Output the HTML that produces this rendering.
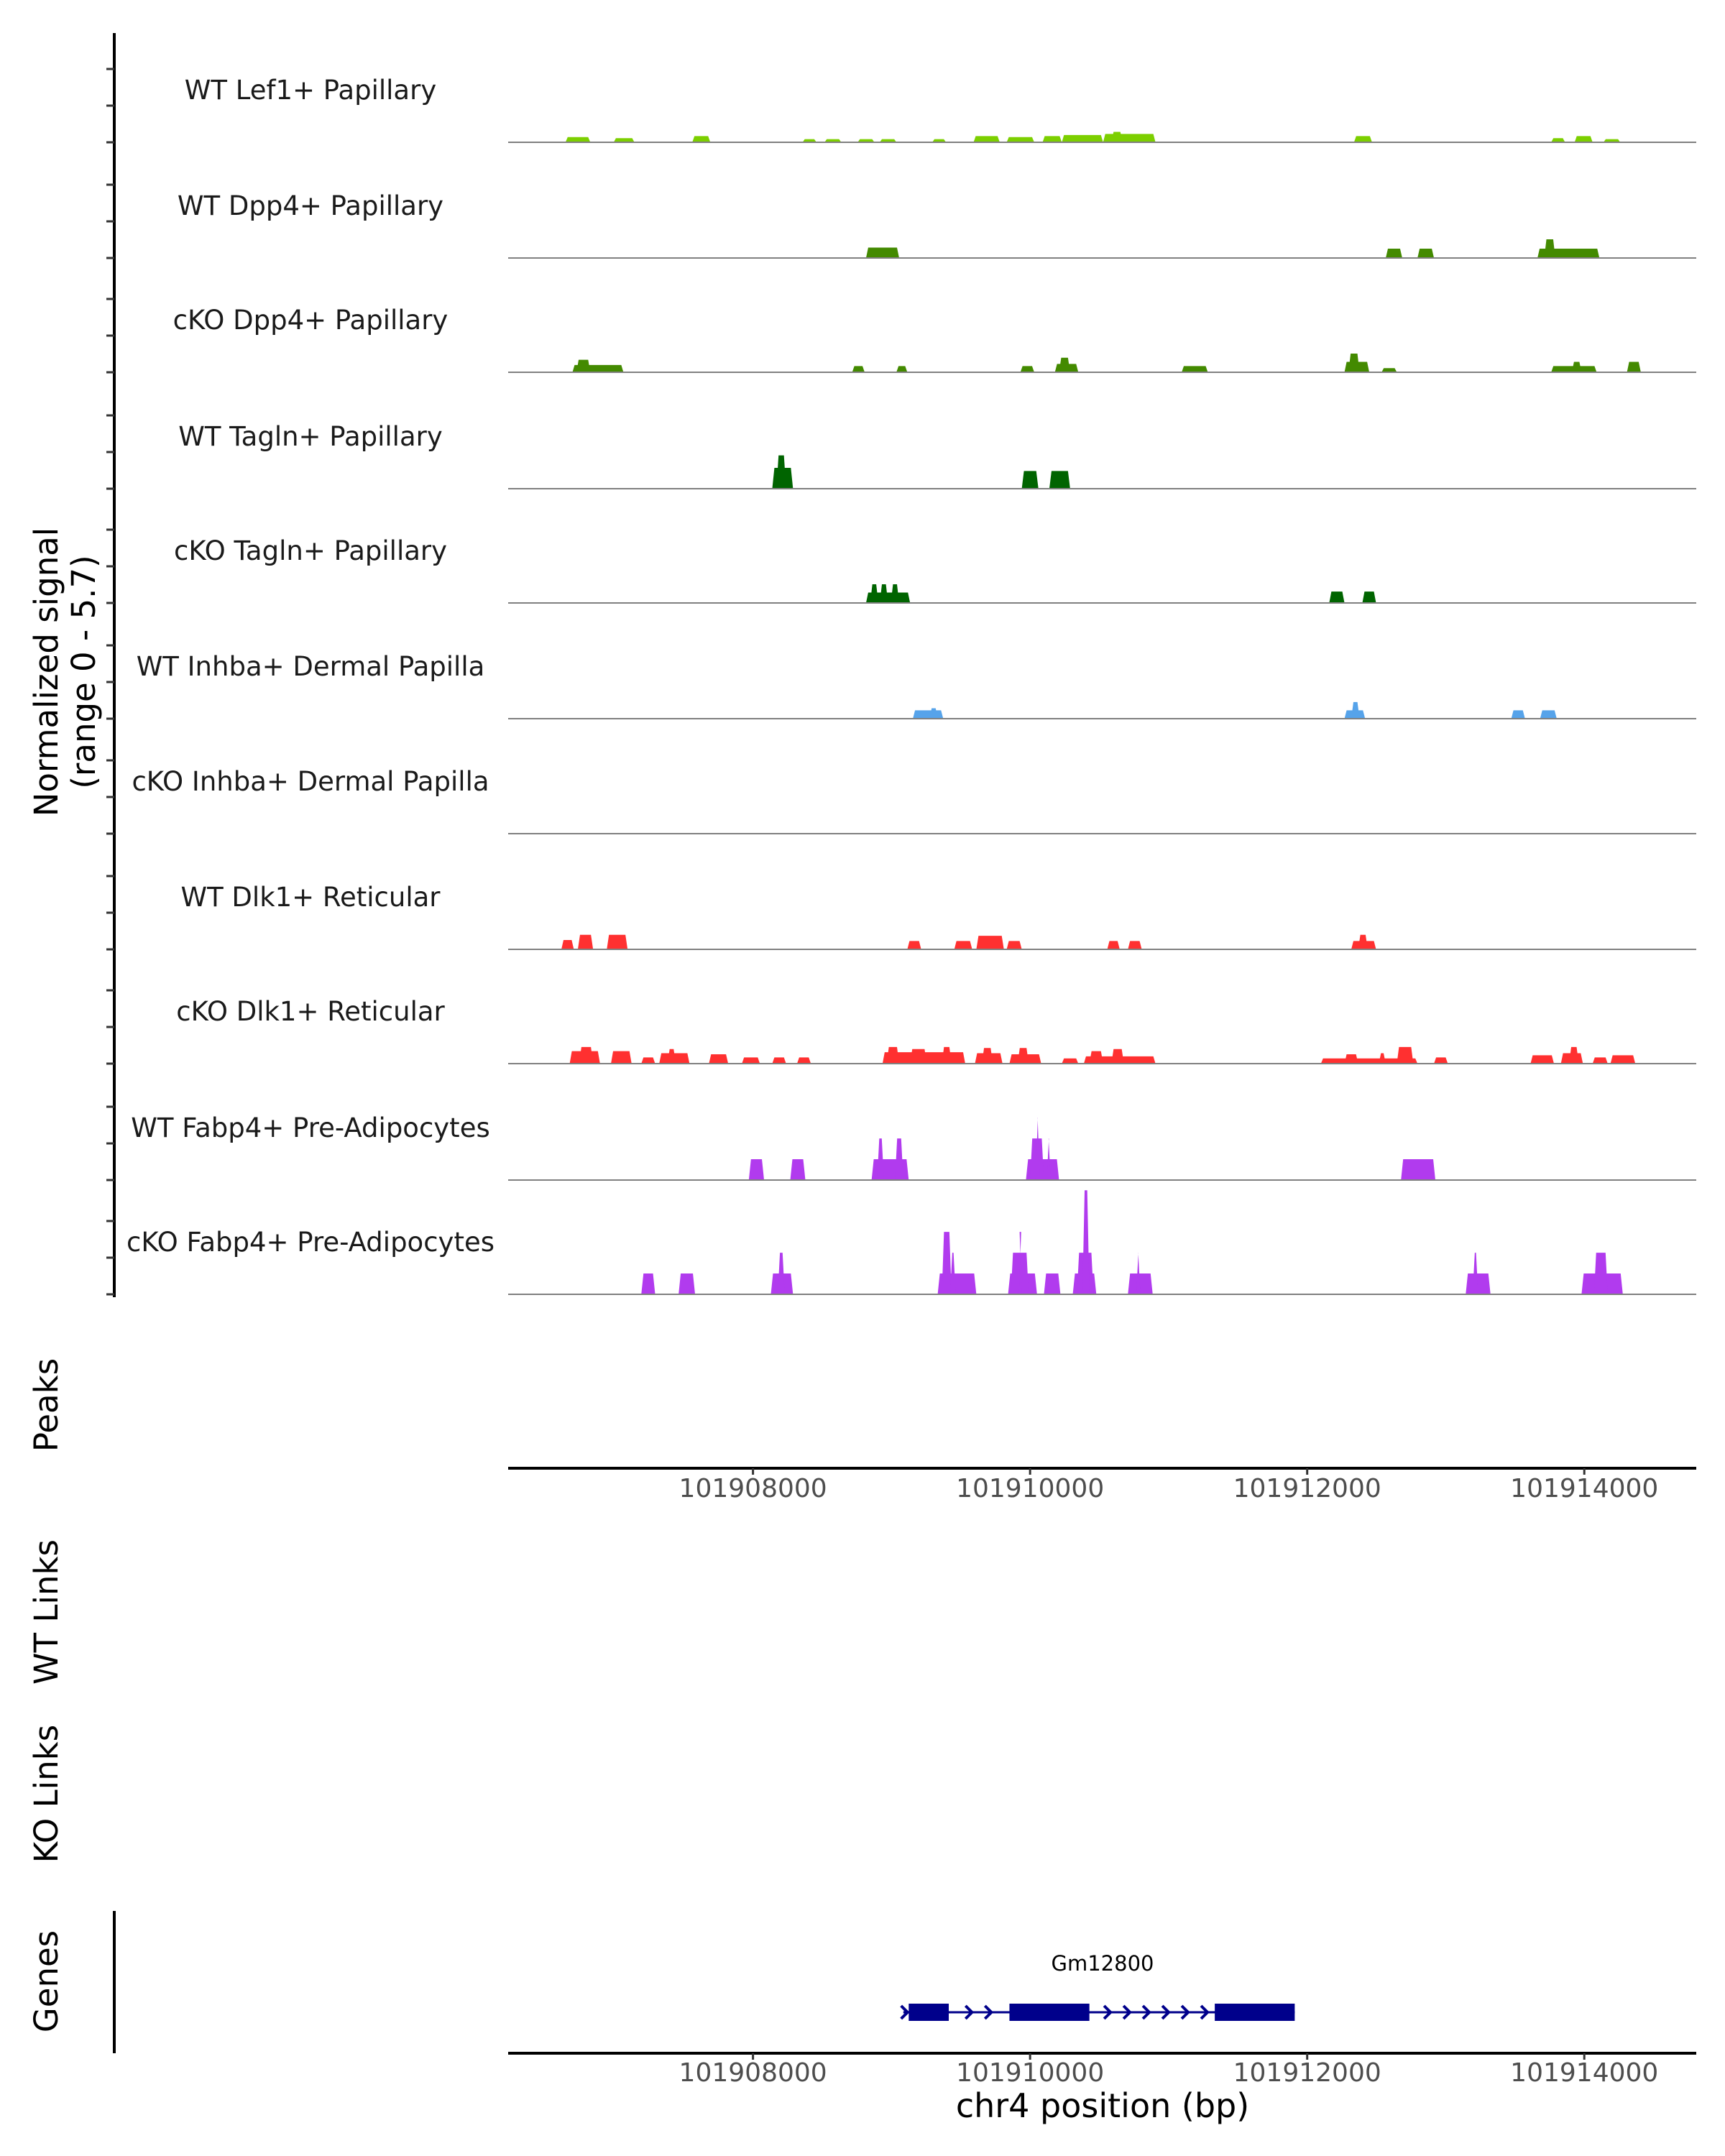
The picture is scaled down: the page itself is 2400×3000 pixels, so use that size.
<!DOCTYPE html>
<html><head><meta charset="utf-8"><title>Coverage plot</title>
<style>
html,body{margin:0;padding:0;background:#fff;}
svg{display:block;font-family:"DejaVu Sans","Liberation Sans",sans-serif;}
</style></head>
<body>
<svg id="chart" width="2400" height="3000" viewBox="0 0 2400 3000" xmlns="http://www.w3.org/2000/svg">
<rect width="2400" height="3000" fill="#fff"/>
<g id="tracks"></g>
<g id="yaxis"></g>
<text transform="translate(80,935) rotate(-90)" text-anchor="middle" font-size="45" fill="#000">Normalized signal</text>
<text transform="translate(132,935) rotate(-90)" text-anchor="middle" font-size="45" fill="#000">(range 0 - 5.7)</text>
<text transform="translate(80,1955) rotate(-90)" text-anchor="middle" font-size="45">Peaks</text>
<text transform="translate(80,2243) rotate(-90)" text-anchor="middle" font-size="45">WT Links</text>
<text transform="translate(80,2496) rotate(-90)" text-anchor="middle" font-size="45">KO Links</text>
<text transform="translate(80,2757) rotate(-90)" text-anchor="middle" font-size="45">Genes</text>
<line x1="159" y1="2659" x2="159" y2="2857" stroke="#000" stroke-width="4"/>
<g id="xaxes"></g>
<g id="gene"></g>
<text x="1534" y="2946" text-anchor="middle" font-size="46">chr4 position (bp)</text>
</svg>
<script>
const NS="http://www.w3.org/2000/svg";
const trackNames=["WT Lef1+ Papillary","WT Dpp4+ Papillary","cKO Dpp4+ Papillary","WT Tagln+ Papillary","cKO Tagln+ Papillary","WT Inhba+ Dermal Papilla","cKO Inhba+ Dermal Papilla","WT Dlk1+ Reticular","cKO Dlk1+ Reticular","WT Fabp4+ Pre-Adipocytes","cKO Fabp4+ Pre-Adipocytes"];
const trackColors=["#7ccf00","#438a00","#438a00","#006400","#006400","#56a3ea","#56a3ea","#ff3030","#ff3030","#b13bee","#b13bee"];
const xTicks=[101908000,101910000,101912000,101914000];
const xDomain=[101906233,101914808];
const yMax=5.7;
// segments: [startBp, endBp, value]
const lef1=[[101906647,101906826,0.25],[101906995,101907144,0.2],[101907562,101907692,0.3],[101908358,101908458,0.15],[101908517,101908637,0.15],[101908756,101908876,0.15],[101908915,101909035,0.15],[101909294,101909393,0.15],[101909592,101909781,0.3],[101909831,101910030,0.25],[101910090,101910229,0.3],[101910229,101910527,0.35],[101910527,101910905,0.4],[101910587,101910667,0.5],[101912338,101912468,0.3],[101913761,101913861,0.2],[101913930,101914060,0.3],[101914139,101914259,0.15]];
const wtDpp4=[[101908816,101909055,0.5],[101912567,101912686,0.45],[101912796,101912915,0.45],[101913662,101914109,0.45],[101913711,101913791,0.9]];
const koDpp4=[[101906697,101907065,0.35],[101906726,101906826,0.6],[101908716,101908806,0.3],[101909035,101909114,0.3],[101909930,101910030,0.3],[101910179,101910348,0.4],[101910209,101910289,0.7],[101911094,101911283,0.3],[101912269,101912448,0.5],[101912298,101912378,0.9],[101912537,101912647,0.2],[101913761,101914089,0.3],[101913910,101913980,0.5],[101914308,101914408,0.5]];
const wtTagln=[[101908139,101908289,1.0],[101908169,101908239,1.6],[101909940,101910060,0.85],[101910139,101910289,0.85]];
const koTagln=[[101908816,101909134,0.5],[101908846,101908905,0.9],[101908915,101908975,0.9],[101908995,101909055,0.9],[101912159,101912269,0.55],[101912398,101912497,0.55]];
const wtInhba=[[101909154,101909373,0.4],[101909274,101909334,0.5],[101912269,101912418,0.4],[101912318,101912378,0.8],[101913473,101913572,0.4],[101913681,101913801,0.4]];
const koInhba=[];
const wtDlk1=[[101906617,101906707,0.45],[101906736,101906846,0.7],[101906945,101907095,0.7],[101909114,101909214,0.4],[101909453,101909582,0.4],[101909612,101909811,0.65],[101909831,101909940,0.4],[101910557,101910647,0.4],[101910706,101910806,0.4],[101912318,101912497,0.4],[101912368,101912437,0.7]];
const koDlk1=[[101906677,101906896,0.6],[101906746,101906846,0.8],[101906975,101907124,0.6],[101907194,101907294,0.3],[101907323,101907542,0.5],[101907383,101907443,0.7],[101907682,101907821,0.45],[101907920,101908050,0.3],[101908139,101908239,0.3],[101908318,101908418,0.3],[101908935,101909532,0.55],[101908965,101909055,0.8],[101909134,101909254,0.7],[101909363,101909433,0.8],[101909602,101909801,0.5],[101909652,101909731,0.75],[101909851,101910080,0.45],[101909910,101909990,0.75],[101910229,101910348,0.25],[101910388,101910905,0.35],[101910428,101910527,0.6],[101910587,101910677,0.7],[101912099,101912796,0.25],[101912269,101912368,0.45],[101912517,101912567,0.5],[101912647,101912766,0.8],[101912915,101913015,0.3],[101913612,101913781,0.4],[101913831,101913990,0.5],[101913890,101913960,0.8],[101914060,101914169,0.3],[101914189,101914368,0.4]];
const wtFabp4=[[101907970,101908080,1],[101908269,101908378,1],[101908856,101909124,1],[101908896,101908945,2],[101909025,101909085,2],[101909970,101910209,1],[101910000,101910100,2],[101910040,101910070,3],[101910120,101910149,2],[101912677,101912925,1]];
const koFabp4=[[101907194,101907294,1],[101907463,101907582,1],[101908129,101908289,1],[101908179,101908229,2],[101909333,101909612,1],[101909363,101909433,3],[101909423,101909463,2],[101909841,101910050,1],[101909861,101909990,2],[101909920,101909940,3],[101910100,101910219,1],[101910308,101910478,1],[101910338,101910458,2],[101910378,101910428,5],[101910706,101910885,1],[101910766,101910796,2],[101913144,101913323,1],[101913194,101913234,2],[101913980,101914278,1],[101914070,101914169,2]];
const geneExons=[[101909124,101909413],[101909851,101910428],[101911333,101911910]];
const geneSpan=[101909085,101911910];
const geneArrows=[101909560,101909700,101910560,101910700,101910840,101910980,101911120,101911260];

const trackData=[lef1,wtDpp4,koDpp4,wtTagln,koTagln,wtInhba,koInhba,wtDlk1,koDlk1,wtFabp4,koFabp4];
const X0=707,X1=2360;
function xs(bp){return X0+(bp-xDomain[0])/(xDomain[1]-xDomain[0])*(X1-X0);}
const baselines=[198,359,518,680,839,1000,1160,1321,1480,1642,1801];
const trackH=165;
function ys(v,b){return b-v/yMax*trackH;}

const tracksG=document.getElementById('tracks');
trackNames.forEach((name,i)=>{
  const b=baselines[i];
  const g=document.createElementNS(NS,'g');
  
  
  trackData[i].forEach(s=>{
    const x1=xs(s[0]),x2=xs(s[1]),y=ys(s[2],b),sl=3;
    const p=document.createElementNS(NS,'polygon');
    p.setAttribute('points',`${x1},${b} ${x1+sl},${y} ${x2-sl},${y} ${x2},${b}`);
    p.setAttribute('fill',trackColors[i]);
    
    
    g.appendChild(p);
  });
  const l=document.createElementNS(NS,'line');
  l.setAttribute('x1',X0);l.setAttribute('x2',X1);l.setAttribute('y1',b);l.setAttribute('y2',b);
  l.setAttribute('stroke','#808080');l.setAttribute('stroke-width','2');
  
  
  g.appendChild(l);
  const t=document.createElementNS(NS,'text');
  t.setAttribute('x',432);t.setAttribute('y',b-60);
  t.setAttribute('text-anchor','middle');t.setAttribute('font-size','37');t.setAttribute('fill','#1a1a1a');
  t.textContent=name;
  
  
  g.appendChild(t);
  tracksG.appendChild(g);
});

const ya=document.getElementById('yaxis');
const al=document.createElementNS(NS,'line');
al.setAttribute('x1',159);al.setAttribute('x2',159);al.setAttribute('y1',46);al.setAttribute('y2',1805);
al.setAttribute('stroke','#000');al.setAttribute('stroke-width','4');


ya.appendChild(al);
baselines.forEach(b=>{
  [0,1,2].forEach(k=>{
    const yy=b-k*51;
    const tk=document.createElementNS(NS,'line');
    tk.setAttribute('x1',148);tk.setAttribute('x2',159);tk.setAttribute('y1',yy);tk.setAttribute('y2',yy);
    tk.setAttribute('stroke','#333');tk.setAttribute('stroke-width','3');
    
    
    ya.appendChild(tk);
  });
});

const xa=document.getElementById('xaxes');
[[2043,2070],[2857,2883]].forEach(([ay,ly])=>{
  const l=document.createElementNS(NS,'line');
  l.setAttribute('x1',X0);l.setAttribute('x2',X1);l.setAttribute('y1',ay);l.setAttribute('y2',ay);
  l.setAttribute('stroke','#000');l.setAttribute('stroke-width','4');
  
  
  xa.appendChild(l);
  xTicks.forEach(v=>{
    const x=xs(v);
    const tk=document.createElementNS(NS,'line');
    tk.setAttribute('x1',x);tk.setAttribute('x2',x);tk.setAttribute('y1',ay);tk.setAttribute('y2',ay+9);
    tk.setAttribute('stroke','#333');tk.setAttribute('stroke-width','3');
    
    
    xa.appendChild(tk);
    const t=document.createElementNS(NS,'text');
    t.setAttribute('x',x);t.setAttribute('y',ly+13);t.setAttribute('text-anchor','middle');
    t.setAttribute('font-size','36');t.setAttribute('fill','#4d4d4d');
    t.textContent=v;
    
    
    xa.appendChild(t);
  });
});

const gg=document.getElementById('gene');
const gy=2800;
const gl=document.createElementNS(NS,'line');
gl.setAttribute('x1',xs(geneSpan[0]));gl.setAttribute('x2',xs(geneSpan[1]));gl.setAttribute('y1',gy);gl.setAttribute('y2',gy);
gl.setAttribute('stroke','#00008b');gl.setAttribute('stroke-width','3');


gg.appendChild(gl);
geneArrows.concat([geneSpan[0]+10]).forEach(bp=>{
  const x=xs(bp);
  const p=document.createElementNS(NS,'polyline');
  p.setAttribute('points',`${x-5},${gy-9} ${x+4},${gy} ${x-5},${gy+9}`);
  p.setAttribute('fill','none');p.setAttribute('stroke','#00008b');p.setAttribute('stroke-width','4');
  
  
  gg.appendChild(p);
});
geneExons.forEach(e=>{
  const r=document.createElementNS(NS,'rect');
  r.setAttribute('x',xs(e[0]));r.setAttribute('width',xs(e[1])-xs(e[0]));
  r.setAttribute('y',gy-12);r.setAttribute('height',24);r.setAttribute('fill','#00008b');
  
  
  gg.appendChild(r);
});
const gt=document.createElementNS(NS,'text');
gt.setAttribute('x',1534);gt.setAttribute('y',2742);gt.setAttribute('text-anchor','middle');gt.setAttribute('font-size','29');
gt.textContent='Gm12800';


gg.appendChild(gt);
</script>
</body></html>
